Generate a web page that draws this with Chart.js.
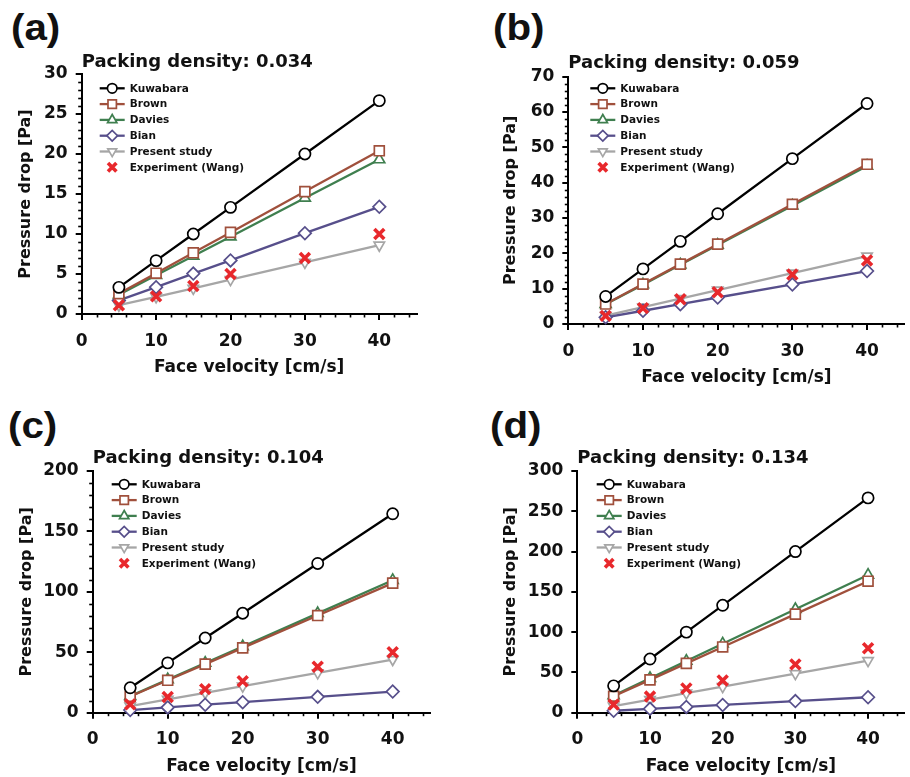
<!DOCTYPE html>
<html><head><meta charset="utf-8">
<script src="https://cdn.jsdelivr.net/npm/chart.js@4.4.1/dist/chart.umd.min.js"></script>
<style>
html,body{margin:0;padding:0;width:910px;height:777px;overflow:hidden;background:#fff;}
.cv{position:absolute;}
.lbl{position:absolute;font-family:"Liberation Sans",Arial,sans-serif;font-weight:bold;font-size:37px;line-height:37px;color:#111;transform-origin:0 0;transform:scaleX(1.09);white-space:nowrap;}
</style></head><body>
<div class="lbl" style="left:11px;top:8.6px">(a)</div>
<div class="lbl" style="left:493px;top:8.6px">(b)</div>
<div class="lbl" style="left:8px;top:407.3px">(c)</div>
<div class="lbl" style="left:490px;top:407.3px">(d)</div>
<canvas class="cv" id="ca" width="455" height="360" style="left:0px;top:30px"></canvas>
<canvas class="cv" id="cb" width="460" height="360" style="left:455px;top:30px"></canvas>
<canvas class="cv" id="cc" width="455" height="360" style="left:0px;top:420px"></canvas>
<canvas class="cv" id="cd" width="460" height="360" style="left:455px;top:420px"></canvas>
<script>
// ---------------- data ----------------
const velocity = [5, 10, 15, 20, 30, 40];
const seriesNames = ['Kuwabara', 'Brown', 'Davies', 'Bian', 'Present study', 'Experiment (Wang)'];
const packingDensity = ['0.034', '0.059', '0.104', '0.134'];
const xAxisTitle = 'Face velocity [cm/s]';
const yAxisTitle = 'Pressure drop [Pa]';

// panel (a)
const kuwabaraA   = [3.33, 6.67, 10, 13.33, 20, 26.67];
const brownA      = [2.55, 5.1, 7.65, 10.2, 15.3, 20.4];
const daviesA     = [2.4, 4.85, 7.25, 9.65, 14.5, 19.3];
const bianA       = [1.7, 3.35, 5.05, 6.7, 10.1, 13.4];
const presentA    = [1.1, 2.15, 3.2, 4.3, 6.45, 8.6];
const experimentA = [1.1, 2.2, 3.5, 5, 7, 10];
// panel (b)
const kuwabaraB   = [7.8, 15.6, 23.4, 31.2, 46.8, 62.4];
const brownB      = [5.65, 11.3, 16.95, 22.6, 33.9, 45.2];
const daviesB     = [5.6, 11.15, 16.75, 22.35, 33.5, 44.7];
const bianB       = [1.9, 3.75, 5.6, 7.5, 11.2, 15];
const presentB    = [2.4, 4.8, 7.2, 9.6, 14.4, 19.2];
const experimentB = [2.3, 4.5, 7, 9, 14, 18];
// panel (c)
const kuwabaraC   = [20.6, 41.2, 61.8, 82.3, 123.5, 164.6];
const brownC      = [13.4, 26.8, 40.2, 53.6, 80.4, 107.2];
const daviesC     = [13.7, 27.4, 41.1, 54.8, 82.2, 109.6];
const bianC       = [2.2, 4.4, 6.6, 8.7, 13.1, 17.5];
const presentC    = [5.5, 11, 16.5, 22, 33, 44];
const experimentC = [6.9, 13, 19.5, 26, 38, 50];
// panel (d)
const kuwabaraD   = [33.3, 66.6, 100, 133.3, 200, 266.6];
const brownD      = [20.4, 40.8, 61.2, 81.6, 122.4, 163.2];
const daviesD     = [21.4, 42.8, 64.2, 85.6, 128.4, 171];
const bianD       = [2.4, 4.8, 7.2, 9.6, 14.4, 19.2];
const presentD    = [8.1, 16.2, 24.3, 32.4, 48.5, 64.7];
const experimentD = [10, 20, 30, 40, 60, 80];

// axis ranges / ticks
const xMax = 45, xStep = 10, xMinorStep = 2;
const yMaxes = [30, 70, 200, 300];
const ySteps = [5, 10, 50, 50];
const yMinorSteps = [1, 2, 10, 0];

// ---------------- styles ----------------
const FONT = '"DejaVu Sans", "Liberation Sans", Arial, sans-serif';
const LINE_W = 2.3;
const seriesStyle = [
  {color: '#000000', pointStyle: 'circle',   radius: 5.6, rotation: 0,   line: true,  pbw: 1.7},
  {color: '#a0503c', pointStyle: 'rect',     radius: 7,   rotation: 0,   line: true,  pbw: 1.7},
  {color: '#3f7f4f', pointStyle: 'triangle', radius: 6.3, rotation: 0,   line: true,  pbw: 1.7},
  {color: '#574f8b', pointStyle: 'rectRot',  radius: 6.3, rotation: 0,   line: true,  pbw: 1.7},
  {color: '#a6a6a6', pointStyle: 'triangle', radius: 6,   rotation: 180, line: true,  pbw: 1.7},
  {color: '#e8282c', pointStyle: 'crossRot', radius: 7,   rotation: 0,   line: false, pbw: 3.6}
];

// per-panel layout (pixels)
const layouts = [
  {id: 'ca', yW: 81.7,  pr: 38.5, tpt: 21.2, tpb: 1.2, pb: 10,  yTitlePad: 16.4, lgDx: 18, lgDy: 14.3},
  {id: 'cb', yW: 113.3, pr: 1.5,  tpt: 22.2, tpb: 2.9, pb: 0,   yTitlePad: 45.9, lgDx: 22, lgDy: 11.6},
  {id: 'cc', yW: 92.7,  pr: 24.8, tpt: 27.2, tpb: 2.2, pb: 1.3, yTitlePad: 16.9, lgDx: 19, lgDy: 13.3},
  {id: 'cd', yW: 122.3, pr: 1.1,  tpt: 27.2, tpb: 2.2, pb: 1.3, yTitlePad: 45.9, lgDx: 19.4, lgDy: 13.3}
];

const panelSeries = [
  [kuwabaraA, brownA, daviesA, bianA, presentA, experimentA],
  [kuwabaraB, brownB, daviesB, bianB, presentB, experimentB],
  [kuwabaraC, brownC, daviesC, bianC, presentC, experimentC],
  [kuwabaraD, brownD, daviesD, bianD, presentD, experimentD]
];

// ---------------- plugins ----------------
function drawMarker(ctx, st, x, y, r) {
  if (Chart.helpers && Chart.helpers.drawPoint) {
    Chart.helpers.drawPoint(ctx, {pointStyle: st.pointStyle, rotation: st.rotation, radius: r, borderWidth: st.pbw}, x, y);
  }
}
const insideLegend = {
  id: 'insideLegend',
  afterDatasetsDraw(chart, args, opts) {
    const {ctx, chartArea} = chart;
    const x0 = chartArea.left + opts.dx, y0 = chartArea.top + opts.dy;
    ctx.save();
    seriesNames.forEach((name, i) => {
      const st = seriesStyle[i];
      const y = y0 + i * opts.rowH;
      if (st.line) {
        ctx.strokeStyle = st.color; ctx.lineWidth = LINE_W;
        ctx.beginPath(); ctx.moveTo(x0, y); ctx.lineTo(x0 + opts.sampleW, y); ctx.stroke();
      }
      ctx.fillStyle = st.line ? '#ffffff' : st.color;
      ctx.strokeStyle = st.color; ctx.lineWidth = st.pbw;
      drawMarker(ctx, st, x0 + opts.sampleW / 2, y, st.radius * 0.85);
      ctx.fillStyle = '#111';
      ctx.font = 'bold 10.5px ' + FONT;
      ctx.textBaseline = 'middle'; ctx.textAlign = 'left';
      ctx.fillText(name, x0 + opts.textDx, y + 0.5);
    });
    ctx.restore();
  }
};
const minorTicks = {
  id: 'minorTicks',
  afterDraw(chart, args, opts) {
    const {ctx} = chart; const xs = chart.scales.x, ys = chart.scales.y;
    ctx.save(); ctx.strokeStyle = '#000'; ctx.lineWidth = 1.6;
    if (opts.xMinor) {
      for (let v = opts.xMinor; v <= xs.max + 1e-9; v += opts.xMinor) {
        if (Math.abs(v / opts.xMajor - Math.round(v / opts.xMajor)) < 1e-6) continue;
        const px = Math.round(xs.getPixelForValue(v)) + 0.5;
        ctx.beginPath(); ctx.moveTo(px, ys.bottom); ctx.lineTo(px, ys.bottom + opts.len); ctx.stroke();
      }
    }
    if (opts.yMinor) {
      for (let v = opts.yMinor; v <= ys.max + 1e-9; v += opts.yMinor) {
        if (Math.abs(v / opts.yMajor - Math.round(v / opts.yMajor)) < 1e-6) continue;
        const py = Math.round(ys.getPixelForValue(v)) + 0.5;
        ctx.beginPath(); ctx.moveTo(xs.left, py); ctx.lineTo(xs.left - opts.len, py); ctx.stroke();
      }
    }
    ctx.restore();
  }
};

// ---------------- build charts ----------------
layouts.forEach((L, p) => {
  const datasets = seriesNames.map((name, i) => {
    const st = seriesStyle[i];
    return {
      label: name,
      data: velocity.map((v, k) => ({x: v, y: panelSeries[p][i][k]})),
      showLine: st.line,
      borderColor: st.color,
      borderWidth: LINE_W,
      backgroundColor: st.line ? '#ffffff' : st.color,
      pointStyle: st.pointStyle,
      pointRotation: st.rotation,
      pointRadius: st.radius,
      pointBorderWidth: st.pbw,
      pointBorderColor: st.color,
      pointBackgroundColor: st.line ? '#ffffff' : st.color,
      tension: 0,
      clip: false,
      order: st.line ? i : -1
    };
  });
  new Chart(document.getElementById(L.id), {
    type: 'scatter',
    data: {datasets},
    plugins: [insideLegend, minorTicks],
    options: {
      responsive: false,
      animation: false,
      events: [],
      layout: {padding: {left: 0, right: L.pr, top: 0, bottom: L.pb}},
      plugins: {
        legend: {display: false},
        tooltip: {enabled: false},
        title: {
          display: true, text: 'Packing density: ' + packingDensity[p],
          align: 'start', fullSize: false, color: '#111',
          font: {family: FONT, size: 18, weight: 'bold', lineHeight: 1.2},
          padding: {top: L.tpt, bottom: L.tpb}
        },
        insideLegend: {dx: L.lgDx, dy: L.lgDy, rowH: 15.8, sampleW: 25, textDx: 30},
        minorTicks: {xMinor: xMinorStep, xMajor: xStep, yMinor: yMinorSteps[p], yMajor: ySteps[p], len: 3.5}
      },
      scales: {
        x: {
          type: 'linear', min: 0, max: xMax,
          ticks: {stepSize: xStep, includeBounds: false, color: '#111', padding: 11,
                  font: {family: FONT, size: 17, weight: 'bold', lineHeight: 1.2}, maxRotation: 0},
          grid: {drawOnChartArea: false, drawTicks: true, tickLength: 6, color: '#000', lineWidth: 2},
          border: {display: true, color: '#000', width: 2},
          title: {display: true, text: xAxisTitle, color: '#111',
                  font: {family: FONT, size: 17, weight: 'bold', lineHeight: 1.2},
                  padding: {top: 0, bottom: 1.8}},
          afterFit(s) { s.height = 66; }
        },
        y: {
          type: 'linear', min: 0, max: yMaxes[p],
          ticks: {stepSize: ySteps[p], color: '#111', padding: 8,
                  font: {family: FONT, size: 17, weight: 'bold', lineHeight: 1.2}},
          grid: {drawOnChartArea: false, drawTicks: true, tickLength: 6, color: '#000', lineWidth: 2},
          border: {display: true, color: '#000', width: 2},
          title: {display: true, text: yAxisTitle, color: '#111',
                  font: {family: FONT, size: 16, weight: 'bold', lineHeight: 1.2},
                  padding: {top: L.yTitlePad, bottom: 0}},
          afterFit(s) { s.width = L.yW; }
        }
      }
    }
  });
});
</script>
</body></html>
